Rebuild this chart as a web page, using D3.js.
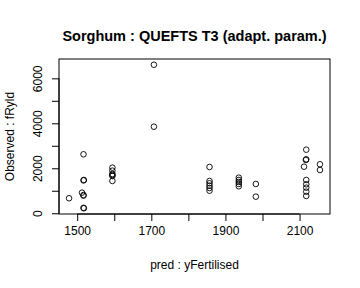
<!DOCTYPE html>
<html>
<head>
<meta charset="utf-8">
<script src="https://cdn.jsdelivr.net/npm/d3@7"></script>
<style>
  body { margin: 0; background: #fff; }
  text { font-family: "Liberation Sans", Arial, Helvetica, sans-serif; fill: #000; }
  .axis path, .axis line { stroke: #000; }
</style>
</head>
<body>
<div id="chart"></div>
<script>

var titleText = "Sorghum : QUEFTS T3 (adapt. param.)",
    xLabel = "pred : yFertilised",
    yLabel = "Observed : fRyld";

// predicted (x) and observed (y)
var predicted = [1478,
  1517, 1518, 1517, 1513, 1517, 1517, 1518, 1517,
  1595, 1595, 1595, 1595, 1595, 1595,
  1707, 1707,
  1857, 1857, 1857, 1857, 1857, 1857,
  1936, 1936, 1936, 1936, 1936,
  1982, 1982,
  2118, 2118, 2117, 2112, 2118, 2118, 2118, 2118, 2118,
  2155, 2155];
var observed = [667,
  2622, 1480, 1460, 916, 813, 782, 222, 240,
  2027, 1893, 1747, 1658, 1700, 1436,
  6604, 3849,
  2058, 1436, 1333, 1227, 1124, 1004,
  1582, 1480, 1391, 1302, 1200,
  1302, 738,
  2827, 2400, 2369, 2071, 1480, 1289, 1138, 960, 769,
  2178, 1924];

var xTicks = [1500, 1600, 1700, 1800, 1900, 2000, 2100],
    xTickLabels = [1500, 1700, 1900, 2100],
    yTicks = [0, 1000, 2000, 3000, 4000, 5000, 6000],
    yTickLabels = [0, 2000, 4000, 6000];

var width = 360, height = 288;
var box = {left: 59, right: 330, top: 59, bottom: 214};

var svg = d3.select("#chart").append("svg")
  .attr("width", width)
  .attr("height", height);

// R style 4% padding around the data range
var xExt = d3.extent(predicted), yExt = d3.extent(observed);
var xPad = (xExt[1] - xExt[0]) * 0.04, yPad = (yExt[1] - yExt[0]) * 0.04;

var xScale = d3.scaleLinear()
  .domain([xExt[0] - xPad, xExt[1] + xPad])
  .range([box.left, box.right]);

var yScale = d3.scaleLinear()
  .domain([yExt[0] - yPad, yExt[1] + yPad])
  .range([box.bottom, box.top]);

var xAxis = d3.axisBottom(xScale)
  .tickValues(xTicks)
  .tickSize(7)
  .tickPadding(5)
  .tickFormat(function(d) { return xTickLabels.indexOf(d) >= 0 ? d : ""; });

var yAxis = d3.axisLeft(yScale)
  .tickValues(yTicks)
  .tickSize(7)
  .tickFormat(function(d) { return yTickLabels.indexOf(d) >= 0 ? d : ""; });

var gx = svg.append("g")
  .attr("class", "x axis")
  .attr("transform", "translate(0," + box.bottom + ")")
  .call(xAxis);
gx.select(".domain").remove();
gx.append("line")
  .attr("x1", xScale(xTicks[0])).attr("x2", xScale(xTicks[xTicks.length - 1]))
  .attr("stroke", "#000");
gx.selectAll("text").style("font-size", "12px");

var gy = svg.append("g")
  .attr("class", "y axis")
  .attr("transform", "translate(" + box.left + ",0)")
  .call(yAxis);
gy.select(".domain").remove();
gy.append("line")
  .attr("y1", yScale(yTicks[0])).attr("y2", yScale(yTicks[yTicks.length - 1]))
  .attr("stroke", "#000");
// labels are turned upright like R's las=0
gy.selectAll(".tick text")
  .style("font-size", "12px")
  .attr("text-anchor", "middle")
  .attr("x", null)
  .attr("dy", null)
  .attr("y", 0)
  .attr("transform", "translate(-17,0) rotate(-90)");

svg.append("rect")
  .attr("x", box.left).attr("y", box.top)
  .attr("width", box.right - box.left).attr("height", box.bottom - box.top)
  .attr("fill", "none").attr("stroke", "#000").attr("stroke-width", 1);

svg.append("g").selectAll("circle")
  .data(predicted)
  .enter().append("circle")
    .attr("cx", function(d) { return xScale(d); })
    .attr("cy", function(d, i) { return yScale(observed[i]); })
    .attr("r", 2.8)
    .attr("fill", "none")
    .attr("stroke", "#000")
    .attr("stroke-width", 0.9);

svg.append("text")
  .attr("x", (box.left + box.right) / 2).attr("y", 41)
  .attr("text-anchor", "middle")
  .style("font-size", "14.5px").style("font-weight", "bold")
  .text(titleText);

svg.append("text")
  .attr("x", (box.left + box.right) / 2).attr("y", 269)
  .attr("text-anchor", "middle")
  .style("font-size", "12px")
  .text(xLabel);

svg.append("text")
  .attr("transform", "translate(14," + (box.top + box.bottom) / 2 + ") rotate(-90)")
  .attr("text-anchor", "middle")
  .style("font-size", "12px")
  .text(yLabel);

</script>
</body>
</html>
